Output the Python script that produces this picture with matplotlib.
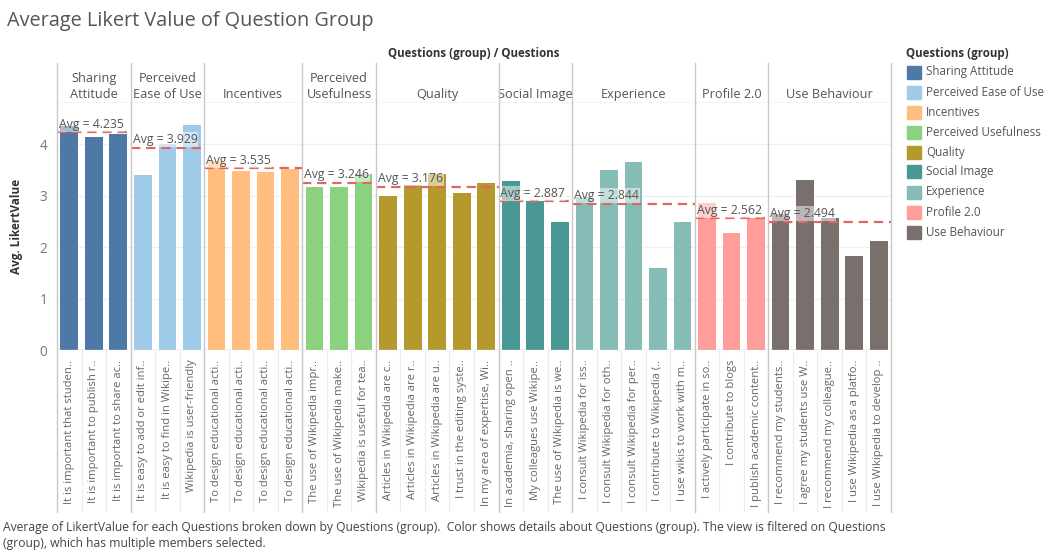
import matplotlib.pyplot as plt
from matplotlib.patches import Rectangle

plt.rcParams["font.family"] = ["Open Sans", "DejaVu Sans"]

# ======================================================
# Data
# ======================================================

groups = [
    "Sharing\nAttitude", "Perceived\nEase of Use", "Incentives",
    "Perceived\nUsefulness", "Quality", "Social Image",
    "Experience", "Profile 2.0", "Use Behaviour",
]
legend_names = [
    "Sharing Attitude", "Perceived Ease of Use", "Incentives",
    "Perceived Usefulness", "Quality", "Social Image",
    "Experience", "Profile 2.0", "Use Behaviour",
]
group_sizes = [3, 3, 4, 3, 5, 3, 5, 3, 5]
group_avgs = [4.235, 3.929, 3.535, 3.246, 3.176, 2.887, 2.844, 2.562, 2.494]
colors = [
    "#4e79a7", "#a0cbe8", "#ffbe7d", "#8cd17d", "#b6992d",
    "#499894", "#86bcb6", "#ff9d9a", "#79706e",
]

questions = [
    "It is important that studen..",
    "It is important to publish r..",
    "It is important to share ac..",
    "It is easy to add or edit inf..",
    "It is easy to find in Wikipe..",
    "Wikipedia is user-friendly",
    "To design educational acti..",
    "To design educational acti..",
    "To design educational acti..",
    "To design educational acti..",
    "The use of Wikipedia impr..",
    "The use of Wikipedia make..",
    "Wikipedia is useful for tea..",
    "Articles in Wikipedia are c..",
    "Articles in Wikipedia are r..",
    "Articles in Wikipedia are u..",
    "I trust in the editing syste..",
    "In my area of expertise, Wi..",
    "In academia, sharing open ..",
    "My colleagues use Wikipe..",
    "The use of Wikipedia is we..",
    "I consult Wikipedia for iss..",
    "I consult Wikipedia for oth..",
    "I consult Wikipedia for per..",
    "I contribute to Wikipedia (..",
    "I use wikis to work with m..",
    "I actively participate in so..",
    "I contribute to blogs",
    "I publish academic content..",
    "I recommend my students..",
    "I agree my students use W..",
    "I recommend my colleague..",
    "I use Wikipedia as a platfo..",
    "I use Wikipedia to develop ..",
]

values = [
    4.36, 4.14, 4.20,
    3.40, 4.01, 4.375,
    3.68, 3.48, 3.46, 3.51,
    3.16, 3.16, 3.42,
    2.99, 3.21, 3.42, 3.05, 3.25,
    3.29, 2.89, 2.48,
    2.98, 3.50, 3.66, 1.59, 2.49,
    2.85, 2.27, 2.57,
    2.65, 3.31, 2.57, 1.83, 2.12,
]

footer = ("Average of LikertValue for each Questions broken down by Questions (group).  "
          "Color shows details about Questions (group). The view is filtered on Questions\n"
          "(group), which has multiple members selected.")

# ======================================================
# Layout helpers (pixel -> figure fraction)
# ======================================================

W, H = 1053, 553
def fx(px):
    return px / W
def fy(py):
    return 1 - py / H

left_px, right_px = 57, 891
n = len(values)

bar_colors = []
starts = []
pos = 0
for g, size in enumerate(group_sizes):
    starts.append(pos)
    bar_colors += [colors[g]] * size
    pos += size

fig = plt.figure(figsize=(W / 100, H / 100), dpi=100)

# main plot
ax = fig.add_axes([fx(left_px), fy(350), fx(right_px) - fx(left_px), fy(103) - fy(350)])
ax.set_xlim(0, n)
ax.set_ylim(0, 4.8)
ax.bar([i + 0.5 for i in range(n)], values, width=0.72, color=bar_colors, zorder=2)
ax.set_yticks([0, 1, 2, 3, 4])
ax.tick_params(axis="y", length=0, labelsize=9.8, labelcolor="#777777", pad=7)
ax.set_xticks([])
ax.grid(axis="y", color="#f0f0f0", lw=1, zorder=0)
for s in ax.spines.values():
    s.set_visible(False)
ax.axhline(0, color="#d0d0d0", lw=1, zorder=3)
ax.set_ylabel("Avg. LikertValue", fontsize=8.5, fontweight="bold", color="#333333", labelpad=12)

for g, size in enumerate(group_sizes):
    x0 = starts[g]
    x1 = x0 + size
    avg = group_avgs[g]
    ax.hlines(avg, x0, x1, colors="#e06666", linestyles=(0, (4.2, 2.6)), lw=1.6, zorder=4)
    ax.text(x0 + 0.08, avg + 0.03, f"Avg = {avg:.3f}", fontsize=8.8, color="#555555",
            ha="left", va="bottom", zorder=5,
            bbox=dict(boxstyle="square,pad=0.08", fc="white", ec="none", alpha=0.5))

# header row
hax = fig.add_axes([fx(left_px), fy(103), fx(right_px) - fx(left_px), fy(63) - fy(103)])
hax.set_xlim(0, n)
hax.set_ylim(0, 1)
hax.axis("off")
for g, size in enumerate(group_sizes):
    hax.text(starts[g] + size / 2, 0.12, groups[g], ha="center", va="baseline",
             fontsize=9.2, color="#555555", linespacing=1.3)
hax.axhline(0, color="#c8c8c8", lw=1)

fig.text(fx(474), fy(54), "Questions (group) / Questions", ha="center", va="center",
         fontsize=8.3, fontweight="bold", color="#333333")

# question labels
lax = fig.add_axes([fx(left_px), fy(512), fx(right_px) - fx(left_px), fy(350) - fy(512)])
lax.set_xlim(0, n)
lax.set_ylim(0, 1)
lax.axis("off")
for i, q in enumerate(questions):
    lax.text(i + 0.5, 0.94, q, rotation=90, ha="center", va="top",
             fontsize=8.1, color="#666666")
    if i > 0:
        lax.axvline(i, color="#ececec", lw=0.8, zorder=0)

# group separators, full height
for b in starts + [n]:
    xp = left_px + (right_px - left_px) * b / n
    fig.add_artist(plt.Line2D([fx(xp), fx(xp)], [fy(63), fy(512)], color="#c8c8c8", lw=1))

# legend
fig.text(fx(906), fy(54), "Questions (group)", ha="left", va="center",
         fontsize=8.3, fontweight="bold", color="#333333")
for g, name in enumerate(legend_names):
    yc = 72 + 20 * g
    fig.add_artist(Rectangle((fx(907), fy(yc + 6.5)), fx(14), 13 / H,
                             transform=fig.transFigure, color=colors[g]))
    fig.text(fx(926), fy(yc), name, ha="left", va="center", fontsize=8.4, color="#555555")

# title and footer
fig.text(fx(7), fy(21), "Average Likert Value of Question Group", ha="left", va="center",
         fontsize=14.3, color="#555555")
fig.text(fx(3), fy(521), footer, ha="left", va="top", fontsize=8.7, color="#444444",
         linespacing=1.35)

fig.savefig("out.png", dpi=100)
